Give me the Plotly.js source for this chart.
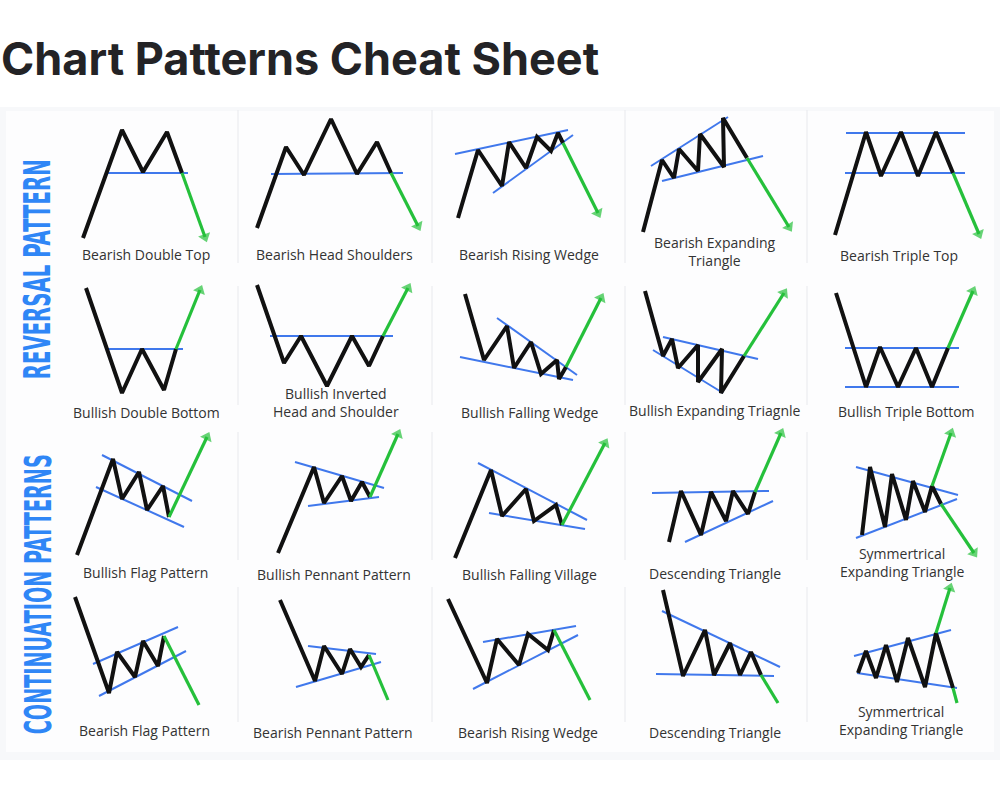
<!DOCTYPE html>
<html>
<head>
<meta charset="utf-8">
<script src="https://cdn.plot.ly/plotly-3.0.1.min.js"></script>
<style>
  html, body { margin: 0; padding: 0; background: #ffffff; }
  #chart { width: 1000px; height: 803px; }
</style>
</head>
<body>
<div id="chart"></div>
<script>
// Pattern sketches, in local cell units (x to the right, y downwards).
// price = black zigzag, bounds = blue trend lines, breaks = green breakout moves
const bearishDoubleTop = {
  price: [[23,130],[62,22],[83,64],[107,24],[122,65]],
  bounds: [[[48,65],[128,65]]],
  breaks: [[[122,65],[145,129]]]
};
const bearishHeadShoulders = {
  price: [[17,120],[46,39],[64,67],[91,11],[117,66],[137,34],[151,65]],
  bounds: [[[31,66],[163,65]]],
  breaks: [[[151,65],[178,118]]]
};
const bearishRisingWedge = {
  price: [[26,110],[46,42],[70,78],[77,34],[94,60],[105,29],[119,43],[126,25],[131,35]],
  bounds: [[[23,46],[136,22]], [[61,85],[141,27]]],
  breaks: [[[131,35],[166,105]]]
};
const bearishExpandingTriangle = {
  price: [[18,124],[37,52],[49,70],[54,41],[73,63],[75,26],[99,59],[98,10],[122,50]],
  bounds: [[[26,58],[103,9]], [[37,73],[138,48]]],
  breaks: [[[122,50],[164,119]]]
};
const bearishTripleTop = {
  price: [[28,127],[59,24],[74,68],[94,24],[111,68],[129,24],[146,65]],
  bounds: [[[39,25],[158,25]], [[38,65],[158,65]]],
  breaks: [[[146,65],[172,126]]]
};
const bullishDoubleBottom = {
  price: [[26,20],[62,125],[82,81],[104,122],[116,81]],
  bounds: [[[45,81],[123,81]]],
  breaks: [[[116,81],[140,22]]]
};
const bullishInvertedHS = {
  price: [[17,17],[44,95],[61,68],[87,118],[112,68],[129,98],[143,68]],
  bounds: [[[30,68],[153,68]]],
  breaks: [[[143,68],[168,20]]]
};
const bullishFallingWedge = {
  price: [[33,26],[52,92],[75,58],[82,100],[99,74],[109,106],[125,92],[127,111],[134,99]],
  bounds: [[[28,89],[141,112]], [[65,50],[145,107]]],
  breaks: [[[134,99],[169,30]]]
};
const bullishExpandingTriangle = {
  price: [[20,23],[38,88],[47,71],[53,100],[73,77],[73,114],[97,81],[96,125],[119,88]],
  bounds: [[[38,69],[133,91]], [[28,82],[98,125]]],
  breaks: [[[119,88],[159,25]]]
};
const bullishTripleBottom = {
  price: [[29,25],[59,119],[73,79],[91,119],[109,80],[125,119],[141,80]],
  bounds: [[[38,80],[152,80]], [[38,119],[152,119]]],
  breaks: [[[141,80],[166,23]]]
};
const bullishFlag = {
  price: [[17,130],[53,34],[62,74],[79,47],[87,85],[103,61],[109,92]],
  bounds: [[[42,30],[132,76]], [[36,62],[124,102]]],
  breaks: [[[109,92],[147,12]]]
};
const bullishPennant = {
  price: [[38,128],[74,42],[84,78],[102,51],[111,76],[122,57],[130,72]],
  bounds: [[[55,37],[144,63]], [[68,81],[139,72]]],
  breaks: [[[130,72],[158,9]]]
};
const bullishFallingVillage = {
  price: [[23,133],[59,45],[70,91],[94,64],[102,96],[124,80],[130,100]],
  bounds: [[[46,38],[155,95]], [[57,88],[153,104]]],
  breaks: [[[130,100],[173,18]]]
};
const descendingTriangleA = {
  price: [[44,117],[56,66],[76,110],[86,67],[101,96],[108,66],[123,89],[130,67]],
  bounds: [[[27,68],[144,66]], [[60,117],[148,76]]],
  breaks: [[[130,67],[156,8]]]
};
const symmetricalTriangleA = {
  price: [[55,110],[63,42],[78,102],[85,49],[99,95],[106,56],[118,87],[125,61],[134,79]],
  bounds: [[[49,42],[151,70]], [[49,113],[150,74]]],
  breaks: [[[125,61],[144,8]], [[134,79],[167,128]]]
};
const bearishFlag = {
  price: [[15,14],[49,110],[57,69],[75,94],[83,58],[98,83],[104,53]],
  bounds: [[[33,81],[118,44]], [[39,113],[126,68]]],
  breaks: [[[104,53],[139,122]]]
};
const bearishPennant = {
  price: [[40,17],[75,98],[84,63],[102,91],[110,66],[121,84],[129,72]],
  bounds: [[[68,63],[136,71]], [[56,104],[141,79]]],
  breaks: [[[129,72],[148,117]]]
};
const bearishRisingWedgeB = {
  price: [[16,16],[55,100],[65,56],[87,82],[96,51],[116,67],[122,47]],
  bounds: [[[51,59],[144,43]], [[41,106],[146,52]]],
  breaks: [[[122,47],[158,117]]]
};
const descendingTriangleB = {
  price: [[38,7],[58,93],[80,47],[89,92],[105,60],[115,92],[126,69],[136,92]],
  bounds: [[[37,28],[155,84]], [[31,91],[149,93]]],
  breaks: [[[136,92],[153,120]]]
};
const symmetricalTriangleB = {
  price: [[51,90],[59,68],[69,95],[79,62],[90,99],[101,55],[118,104],[129,50],[146,105]],
  bounds: [[[47,73],[144,47]], [[50,90],[150,105]]],
  breaks: [[[129,50],[143,5]], [[146,105],[150,120]]]
};

// grid order, row by row
const patterns = [
  bearishDoubleTop, bearishHeadShoulders, bearishRisingWedge, bearishExpandingTriangle, bearishTripleTop,
  bullishDoubleBottom, bullishInvertedHS, bullishFallingWedge, bullishExpandingTriangle, bullishTripleBottom,
  bullishFlag, bullishPennant, bullishFallingVillage, descendingTriangleA, symmetricalTriangleA,
  bearishFlag, bearishPennant, bearishRisingWedgeB, descendingTriangleB, symmetricalTriangleB
];
const patternLabels = [
  'Bearish Double Top', 'Bearish Head Shoulders', 'Bearish Rising Wedge', 'Bearish Expanding<br>Triangle', 'Bearish Triple Top',
  'Bullish Double Bottom', 'Bullish Inverted<br>Head and Shoulder', 'Bullish Falling Wedge', 'Bullish Expanding Triagnle', 'Bullish Triple Bottom',
  'Bullish Flag Pattern', 'Bullish Pennant Pattern', 'Bullish Falling Village', 'Descending Triangle', 'Symmertrical<br>Expanding Triangle',
  'Bearish Flag Pattern', 'Bearish Pennant Pattern', 'Bearish Rising Wedge', 'Descending Triangle', 'Symmertrical<br>Expanding Triangle'
];
// which breakout moves end in an arrow head (bottom row heads are cut off)
const breakHeads = [
  [true], [true], [true], [true], [true],
  [true], [true], [true], [true], [true],
  [true], [true], [true], [true], [true, true],
  [false], [false], [false], [false], [true, false]
];
const groupTitles = ['REVERSAL PATTERN', 'CONTINUATION PATTERNS'];

// ---- layout constants (pixels) ----
const W = 1000, H = 803;
const COL_X = [60, 240, 432, 625, 807];
const COL_W = [178, 192, 193, 182, 190];
const ROW_Y = [108, 268, 425, 583];
const ROW_H = [160, 157, 158, 165];
const LABEL_POS = [
  [86,146], [94,146], [97,146], [90,143.5], [92,147],
  [86,144], [96,134.5], [98,144], [90,142], [99,143],
  [85,147], [94,149], [97,149], [90,148], [95,137.5],
  [84,147], [93,149], [96,149], [90,149], [94,137]
];
const COLORS = {
  PRICE: '#111111',
  BOUND: '#4078ec',
  BREAK: '#25c03b',
  LABEL: '#333333',
  GROUP: '#2f86f6',
  TITLE: '#232326',
  PANEL: '#f7f8fa',
  CELL: '#fdfdfe',
  SEP: '#e8e9ed'
};

const px = x => x / W;
const py = y => 1 - y / H;

const traces = [];
const layout = {
  width: W, height: H,
  margin: { l: 0, r: 0, t: 0, b: 0 },
  paper_bgcolor: '#ffffff',
  plot_bgcolor: 'rgba(0,0,0,0)',
  showlegend: false,
  title: {
    text: 'Chart Patterns Cheat Sheet',
    x: 0.001, xanchor: 'left', xref: 'paper',
    y: py(59), yanchor: 'middle', yref: 'paper',
    font: { family: 'Inter, "Liberation Sans", sans-serif', size: 45, weight: 700, color: COLORS.TITLE }
  },
  shapes: [],
  annotations: []
};

// panel background + cell separators
layout.shapes.push({ type: 'rect', xref: 'paper', yref: 'paper', layer: 'below',
  x0: 0, x1: 1, y0: py(760), y1: py(107), fillcolor: COLORS.PANEL, line: { width: 0 } });
layout.shapes.push({ type: 'rect', xref: 'paper', yref: 'paper', layer: 'below',
  x0: px(6), x1: px(994), y0: py(752), y1: py(111), fillcolor: COLORS.CELL, line: { width: 0 } });
const sepRows = [[110, 263], [286, 405], [432, 560], [587, 722]];
[238, 432, 625, 807].forEach(sx => {
  sepRows.forEach(([a, b]) => {
    layout.shapes.push({ type: 'line', xref: 'paper', yref: 'paper', layer: 'below',
      x0: px(sx), x1: px(sx), y0: py(b), y1: py(a), line: { color: COLORS.SEP, width: 1 } });
  });
});

patterns.forEach((p, i) => {
  const r = Math.floor(i / 5), c = i % 5;
  const n = i + 1;
  const xa = 'x' + (n === 1 ? '' : n), ya = 'y' + (n === 1 ? '' : n);
  const w = COL_W[c], h = ROW_H[r];

  layout['xaxis' + (n === 1 ? '' : n)] = {
    domain: [px(COL_X[c]), px(COL_X[c] + w)], range: [0, w],
    visible: false, fixedrange: true, anchor: ya
  };
  layout['yaxis' + (n === 1 ? '' : n)] = {
    domain: [py(ROW_Y[r] + h), py(ROW_Y[r])], range: [h, 0],
    visible: false, fixedrange: true, anchor: xa
  };

  // blue trend lines
  const bx = [], by = [];
  p.bounds.forEach(seg => { bx.push(seg[0][0], seg[1][0], null); by.push(seg[0][1], seg[1][1], null); });
  traces.push({ type: 'scatter', mode: 'lines', xaxis: xa, yaxis: ya, x: bx, y: by,
    line: { color: COLORS.BOUND, width: 2 }, hoverinfo: 'skip', cliponaxis: false });

  // black price path
  traces.push({ type: 'scatter', mode: 'lines', xaxis: xa, yaxis: ya,
    x: p.price.map(q => q[0]), y: p.price.map(q => q[1]),
    line: { color: COLORS.PRICE, width: 4 }, hoverinfo: 'skip', cliponaxis: false });

  // green breakout arrows
  p.breaks.forEach((seg, k) => {
    const head = breakHeads[i][k];
    traces.push({ type: 'scatter', mode: head ? 'lines+markers' : 'lines', xaxis: xa, yaxis: ya,
      x: [seg[0][0], seg[1][0]], y: [seg[0][1], seg[1][1]],
      line: { color: COLORS.BREAK, width: 3.2 },
      marker: { symbol: 'triangle-up', size: [0, 11], angleref: 'previous', color: COLORS.BREAK,
        line: { width: 0 } },
      hoverinfo: 'skip', cliponaxis: false });
  });

  layout.annotations.push({
    xref: xa, yref: ya, x: LABEL_POS[i][0], y: LABEL_POS[i][1],
    text: patternLabels[i], showarrow: false, xanchor: 'center', yanchor: 'middle',
    font: { family: '"Open Sans", sans-serif', size: 14, color: COLORS.LABEL }
  });
});

// vertical group titles
const groupPos = [[37, 270], [38, 595]];
groupTitles.forEach((t, i) => {
  layout.annotations.push({
    xref: 'paper', yref: 'paper', x: px(groupPos[i][0]), y: py(groupPos[i][1]),
    text: t, textangle: -90, showarrow: false, xanchor: 'center', yanchor: 'middle',
    font: { family: '"Liberation Sans Narrow", "DejaVu Sans Condensed", "Liberation Sans", sans-serif',
      size: 37, weight: 700, color: COLORS.GROUP }
  });
});
const groupLen = [220, 280];

Plotly.newPlot('chart', traces, layout, { staticPlot: true, displayModeBar: false }).then(() => {
  // squeeze the tall group titles to their printed length
  document.querySelectorAll('.annotation-text').forEach(el => {
    const k = groupTitles.indexOf(el.textContent);
    if (k >= 0) {
      el.setAttribute('textLength', groupLen[k]);
      el.setAttribute('lengthAdjust', 'spacingAndGlyphs');
    }
  });
});
</script>
</body>
</html>
